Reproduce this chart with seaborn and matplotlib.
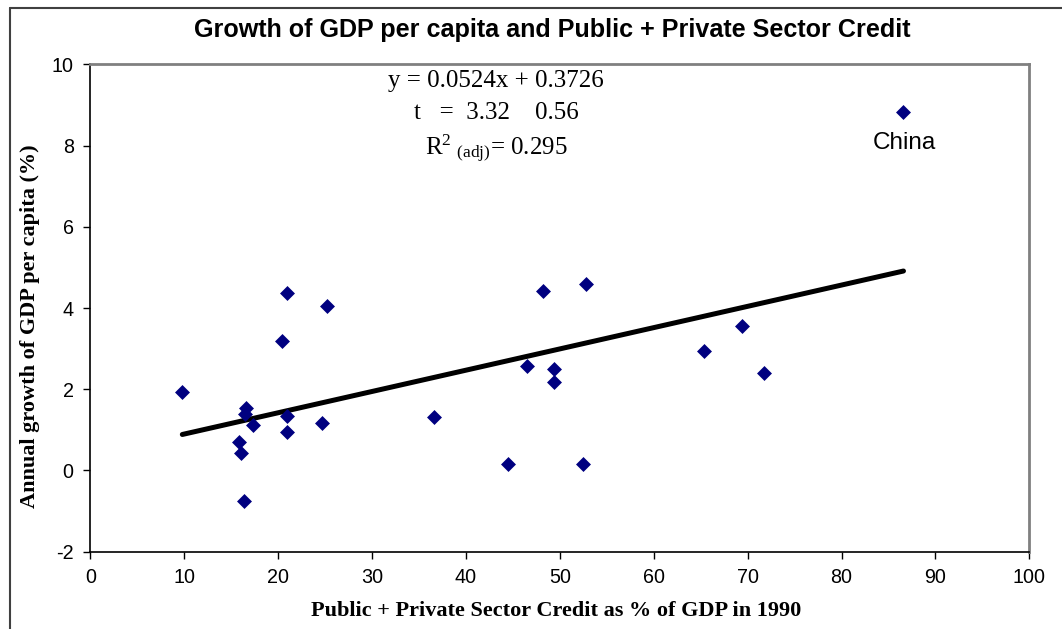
import numpy as np
import pandas as pd
import matplotlib
matplotlib.use('Agg')
import matplotlib.pyplot as plt
from matplotlib.lines import Line2D
import seaborn as sns

# Credit as % of GDP in 1990 and annual growth of GDP per capita (%)
credit = [9.8, 15.8, 16.0, 16.4, 16.6, 16.5, 17.3, 20.4, 21.0, 20.9, 20.9,
          24.7, 25.2, 36.6, 44.5, 46.5, 49.4, 49.4, 48.2, 52.8, 52.5,
          65.4, 69.4, 71.7, 86.6]
growth = [1.92, 0.69, 0.42, -0.76, 1.55, 1.38, 1.13, 3.18, 4.38, 1.33, 0.94,
          1.18, 4.04, 1.31, 0.17, 2.56, 2.49, 2.19, 4.43, 4.58, 0.17,
          2.93, 3.55, 2.39, 8.82]
labels = [''] * 24 + ['China']

# fitted trend (from the chart's equation)
slope = 0.0524
intercept = 0.3726

x_ticks = list(range(0, 101, 10))
y_ticks = list(range(-2, 11, 2))

df = pd.DataFrame({'credit': credit, 'growth': growth, 'label': labels})

sns.set_style('white')
plt.rcParams['font.family'] = ['Liberation Sans', 'DejaVu Sans']
plt.rcParams['text.color'] = 'black'
plt.rcParams['xtick.color'] = 'black'
plt.rcParams['ytick.color'] = 'black'
plt.rcParams['axes.unicode_minus'] = False
plt.rcParams['mathtext.fontset'] = 'custom'
plt.rcParams['mathtext.rm'] = 'Liberation Serif'
plt.rcParams['mathtext.it'] = 'Liberation Serif:italic'

fig = plt.figure(figsize=(10.62, 6.29), dpi=100)
ax = fig.add_axes([90.3 / 1062, 1 - 551.7 / 629, 939 / 1062, 487.4 / 629])

# trend line
xs = np.array([min(credit), max(credit)])
fit = pd.DataFrame({'x': xs, 'y': slope * xs + intercept})
sns.lineplot(data=fit, x='x', y='y', color='black', linewidth=3.6, ax=ax)

sns.scatterplot(data=df, x='credit', y='growth', marker='D', s=58,
                color='#000080', edgecolor='#000080', linewidth=0, ax=ax, zorder=3)

china = df[df['label'] == 'China'].iloc[0]
ax.annotate('China', (china['credit'], china['growth']), xytext=(1, -22),
            textcoords='offset points', ha='center', va='center', fontsize=17.5)

ax.set_xlim(0, 100)
ax.set_ylim(-2, 10)
ax.set_xticks(x_ticks)
ax.set_yticks(y_ticks)
ax.tick_params(axis='both', direction='out', length=5, width=1, labelsize=14.2,
               bottom=True, left=True, pad=7)
for side in ['left', 'bottom']:
    ax.spines[side].set_color('black')
    ax.spines[side].set_linewidth(1.2)
for side in ['top', 'right']:
    ax.spines[side].set_color('#808080')
    ax.spines[side].set_linewidth(2)

ax.set_xlabel('')
ax.set_ylabel('')

fig.text(552 / 1062, 1 - 30 / 629, 'Growth of GDP per capita and Public + Private Sector Credit',
         ha='center', va='center', fontsize=18.1, fontweight='bold')
fig.text(556 / 1062, 1 - 611 / 629, 'Public + Private Sector Credit as % of GDP in 1990',
         ha='center', va='center', fontsize=16, fontweight='bold', family='Liberation Serif')
fig.text(30 / 1062, 1 - 326 / 629, 'Annual growth of GDP per capita (%)',
         ha='center', va='center', rotation=90, fontsize=16, fontweight='bold',
         family='Liberation Serif')

# regression statistics
stats_kw = dict(ha='center', va='center', fontsize=18, family='Liberation Serif')
fig.text(496 / 1062, 1 - 81 / 629, f'y = {slope}x + {intercept}', **stats_kw)
fig.text(496 / 1062, 1 - 113 / 629, 't   =  3.32    0.56', **stats_kw)
fig.text(496 / 1062, 1 - 148 / 629, r'R$^{2}$$\;_{\mathrm{(adj)}}$= 0.295', **stats_kw)

# outer chart border
fig.add_artist(Line2D([10 / 1062, 10 / 1062], [0, 1 - 8 / 629], color='#404040', linewidth=1.5))
fig.add_artist(Line2D([10 / 1062, 1], [1 - 8 / 629, 1 - 8 / 629], color='#404040', linewidth=1.5))

fig.savefig('out.png', dpi=100)
